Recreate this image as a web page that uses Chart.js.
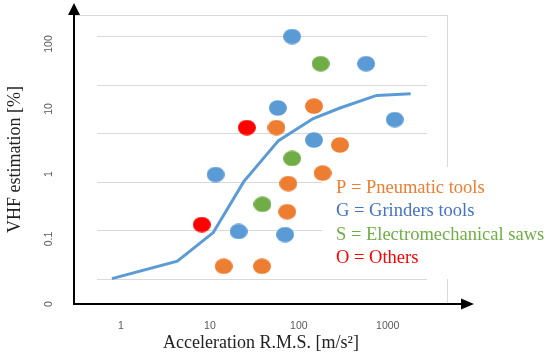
<!DOCTYPE html>
<html>
<head>
<meta charset="utf-8">
<title>VHF estimation vs acceleration</title>
<script src="https://cdn.jsdelivr.net/npm/chart.js@4.4.1/dist/chart.umd.min.js"></script>
<style>
  html, body { margin: 0; padding: 0; background: #fff; }
  canvas { display: block; }
</style>
</head>
<body>
<canvas id="vhfChart" width="550" height="360"></canvas>
<script>
// values: x = acceleration r.m.s. [m/s²], y = VHF estimation [%]
const pneumaticX = [148, 56, 290, 185, 76, 74, 14.3, 38.5];
const pneumaticY = [3.6, 1.3, 0.57, 0.15, 0.091, 0.024, 0.0018, 0.0018];
const grindersX = [84, 570, 58, 1200, 148, 11.6, 21, 70];
const grindersY = [98, 27, 3.3, 1.9, 0.72, 0.14, 0.0094, 0.0081];
const sawsX = [176, 84, 39];
const sawsY = [27, 0.3, 0.034];
const othersX = [26, 8.1];
const othersY = [1.3, 0.013];
const curveX = [0.79, 4.3, 10.9, 24, 59, 145, 290, 750, 1810];
const curveY = [0.001, 0.0023, 0.0089, 0.1, 0.7, 2.0, 3.3, 6.0, 6.5];

const seriesLabels = ["P = Pneumatic tools", "G = Grinders tools", "S = Electromechanical saws", "O = Others"];
const xTicks = [1, 10, 100, 1000];
const xTickLabels = ["1", "10", "100", "1000"];
const yTicks = [0.01, 0.1, 1, 10, 100];
const yTickLabels = ["0", "0.1", "1", "10", "100"];
const yGrid = [0.001, 0.01, 0.1, 1, 10, 100];

const dotColors = ["#ed7d31", "#5b9bd5", "#70ad47", "#ff0000"];
const legendColors = ["#ed7d31", "#4472c4", "#70ad47", "#ff0000"];

function pts(xs, ys) {
  return xs.map((x, i) => ({ x, y: ys[i] }));
}

// slightly oval marker like the original
function dot(color) {
  const c = document.createElement("canvas");
  c.width = 18; c.height = 16;
  const g = c.getContext("2d");
  g.fillStyle = color;
  g.beginPath();
  g.ellipse(9, 8, 9, 7.8, 0, 0, Math.PI * 2);
  g.fill();
  return c;
}

function series(i, xs, ys) {
  return {
    label: seriesLabels[i],
    data: pts(xs, ys),
    pointStyle: dot(dotColors[i]),
    pointRadius: 8,
    backgroundColor: dotColors[i],
    borderWidth: 0
  };
}

// keep the tick label paddings from pushing the plot area around
function noPad(s) {
  s.paddingTop = 0; s.paddingBottom = 0;
  s.paddingLeft = 0; s.paddingRight = 0;
}

const framePlugin = {
  id: "frame",
  beforeDatasetsDraw(chart) {
    const { ctx, chartArea: a, scales } = chart;
    ctx.save();
    ctx.strokeStyle = "#d9d9d9";
    ctx.lineWidth = 1;
    yGrid.forEach(v => {
      const py = Math.round(scales.y.getPixelForValue(v)) + 0.5;
      ctx.beginPath();
      ctx.moveTo(a.left + 23, py);
      ctx.lineTo(a.right - 21, py);
      ctx.stroke();
    });
    ctx.beginPath();
    ctx.moveTo(a.left, a.top + 0.5);
    ctx.lineTo(a.right - 0.5, a.top + 0.5);
    ctx.lineTo(a.right - 0.5, a.bottom);
    ctx.stroke();
    // white panel behind the legend
    ctx.fillStyle = "#fff";
    ctx.fillRect(322, 167, 228, 112);
    ctx.restore();
  },
  afterDatasetsDraw(chart) {
    const { ctx, chartArea: a } = chart;
    ctx.save();
    ctx.strokeStyle = "#000";
    ctx.fillStyle = "#000";
    ctx.lineWidth = 2;
    ctx.beginPath();
    ctx.moveTo(a.left, a.bottom + 1);
    ctx.lineTo(a.left, 14);
    ctx.moveTo(a.left - 1, a.bottom);
    ctx.lineTo(462, a.bottom);
    ctx.stroke();
    ctx.beginPath();
    ctx.moveTo(a.left, 3);
    ctx.lineTo(a.left + 6, 15);
    ctx.lineTo(a.left - 6, 15);
    ctx.closePath();
    ctx.fill();
    ctx.beginPath();
    ctx.moveTo(474, a.bottom);
    ctx.lineTo(461, a.bottom - 5.5);
    ctx.lineTo(461, a.bottom + 5.5);
    ctx.closePath();
    ctx.fill();

    ctx.font = "18.5px 'Liberation Serif', serif";
    ctx.textBaseline = "middle";
    ctx.textAlign = "left";
    seriesLabels.forEach((t, i) => {
      ctx.fillStyle = legendColors[i];
      ctx.fillText(t, 336, 188 + i * 23.4);
    });
    ctx.restore();
  }
};

const tickFont = { family: "'Liberation Sans', sans-serif", size: 10.5 };
const titleFont = { family: "'Liberation Serif', serif", size: 18 };

new Chart(document.getElementById("vhfChart"), {
  type: "scatter",
  data: {
    datasets: [
      series(0, pneumaticX, pneumaticY),
      series(1, grindersX, grindersY),
      series(2, sawsX, sawsY),
      series(3, othersX, othersY),
      {
        label: "curve",
        data: pts(curveX, curveY),
        showLine: true,
        borderColor: "#5b9bd5",
        borderWidth: 3,
        pointRadius: 0,
        tension: 0
      }
    ]
  },
  options: {
    responsive: false,
    animation: false,
    devicePixelRatio: 1,
    layout: { padding: { top: 15, right: 102, left: 0, bottom: 0 } },
    plugins: { legend: { display: false }, tooltip: { enabled: false } },
    scales: {
      x: {
        type: "logarithmic",
        min: 0.296,
        max: 4757,
        afterBuildTicks: s => { s.ticks = xTicks.map(v => ({ value: v })); },
        afterFit: s => { s.height = 56; noPad(s); },
        grid: { display: false, drawTicks: false },
        border: { display: false },
        ticks: {
          callback: v => xTickLabels[xTicks.indexOf(v)],
          font: tickFont,
          color: "#595959",
          padding: 16,
          maxRotation: 0,
          autoSkip: false
        },
        title: {
          display: true,
          text: "Acceleration R.M.S. [m/s²]",
          font: titleFont,
          color: "#222",
          padding: { top: 4, bottom: 6 }
        }
      },
      y: {
        type: "logarithmic",
        display: false,
        min: 3.36e-4,
        max: 272.7
      },
      yLabels: {
        type: "logarithmic",
        position: "left",
        min: 0.01,
        max: 279,
        afterBuildTicks: s => { s.ticks = yTicks.map(v => ({ value: v })); },
        afterFit: s => { s.width = 74; noPad(s); },
        grid: { display: false, drawTicks: false },
        border: { display: false },
        ticks: {
          callback: v => yTickLabels[yTicks.indexOf(v)],
          font: tickFont,
          color: "#595959",
          minRotation: 90,
          maxRotation: 90,
          crossAlign: "center",
          padding: 16,
          autoSkip: false
        },
        title: {
          display: true,
          text: "VHF estimation [%]",
          font: titleFont,
          color: "#222",
          padding: { top: 4, bottom: 4 }
        }
      }
    }
  },
  plugins: [framePlugin]
});
</script>
</body>
</html>
